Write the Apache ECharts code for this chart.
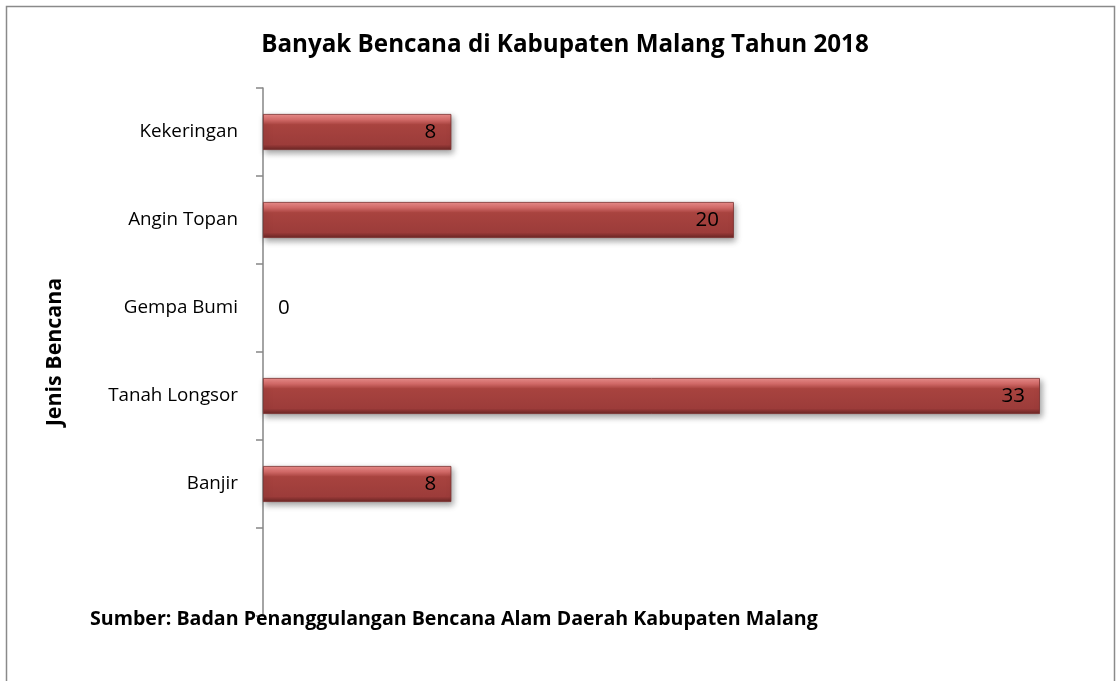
<!DOCTYPE html>
<html><head><meta charset="utf-8">
<script src="https://cdn.jsdelivr.net/npm/echarts@6/dist/echarts.min.js"></script>
<style>html,body{margin:0;padding:0;background:#fff}#c{width:1116px;height:681px}</style>
</head><body><div id="c"></div>
<script>
var categories = ['', 'Banjir', 'Tanah Longsor', 'Gempa Bumi', 'Angin Topan', 'Kekeringan'];
var values = [null, 8, 33, 0, 20, 8];
var titleText = 'Banyak Bencana di Kabupaten Malang Tahun 2018';
var sourceText = 'Sumber: Badan Penanggulangan Bencana Alam Daerah Kabupaten Malang';
var axisName = 'Jenis Bencana';

var FONT = '"Open Sans", Lato, sans-serif';
var chart = echarts.init(document.getElementById('c'), null, {renderer: 'canvas'});
var barColor = new echarts.graphic.LinearGradient(0, 0, 0, 1, [
  {offset: 0, color: '#ee8f8d'},
  {offset: 0.16, color: '#d66c6a'},
  {offset: 0.3, color: '#a8433f'},
  {offset: 0.85, color: '#9c3c3a'},
  {offset: 1, color: '#6a2524'}
]);
var barData = values.map(function (v) {
  return v === 0 ? {value: v, itemStyle: {opacity: 0}} : v;
});
chart.setOption({
  backgroundColor: '#fff',
  animation: false,
  title: {
    text: titleText, left: 560, top: 28, textAlign: 'center',
    textStyle: {fontFamily: FONT, fontWeight: 'bold', fontSize: 24.2, color: '#000'}
  },
  grid: {left: 263, top: 88, height: 528, right: 29, containLabel: false},
  xAxis: {type: 'value', min: 0, max: 35, show: false},
  yAxis: {
    type: 'category', data: categories,
    name: axisName, nameLocation: 'middle', nameGap: 198, nameRotate: 90,
    nameTextStyle: {fontFamily: FONT, fontWeight: 'bold', fontSize: 21.4, color: '#000'},
    axisLine: {show: true, lineStyle: {color: '#868686', width: 1.5}},
    axisTick: {show: true, length: 7, lineStyle: {color: '#868686', width: 1.5}},
    axisLabel: {fontFamily: FONT, fontSize: 18.8, color: '#000', margin: 25},
    splitLine: {show: false}
  },
  series: [{
    type: 'bar', data: barData, barWidth: 36,
    itemStyle: {
      color: barColor, borderColor: '#7a2d2c', borderWidth: 0.8,
      shadowBlur: 6, shadowOffsetX: 2, shadowOffsetY: 3, shadowColor: 'rgba(0,0,0,0.35)'
    },
    label: {
      show: true, position: 'insideRight', distance: 15,
      fontFamily: FONT, fontSize: 20.5, color: '#000',
      formatter: function (p) { return p.value === 0 ? '' : p.value; }
    },
    z: 2
  }, {
    type: 'bar', data: values.map(function (v) { return v === 0 ? 0 : null; }), barWidth: 36, barGap: '-100%',
    itemStyle: {color: 'transparent'},
    label: {show: true, position: 'right', distance: 15, fontFamily: FONT, fontSize: 20.5, color: '#000',
      formatter: function (p) { return p.value === 0 ? '0' : ''; }},
    z: 3
  }],
  graphic: [
    {type: 'rect', shape: {x: 6.5, y: 6.5, width: 1108, height: 700}, style: {fill: 'none', stroke: '#8a8a8a', lineWidth: 1.5}, silent: true},
    {type: 'text', left: 90, top: 609, style: {text: sourceText, fontFamily: FONT, fontWeight: 'bold', fontSize: 19.6, fill: '#000'}, z: 10}
  ]
});
</script></body></html>
